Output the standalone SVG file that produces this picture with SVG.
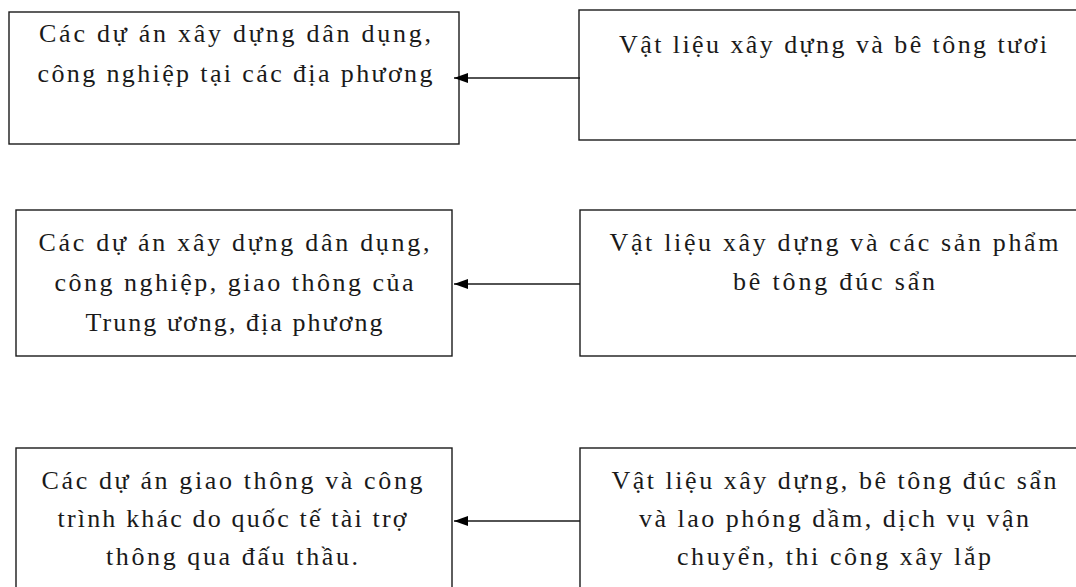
<svg xmlns="http://www.w3.org/2000/svg" width="1076" height="587" viewBox="0 0 1076 587">
  <defs>
    <style>
      .box { fill: #ffffff; stroke: #1a1a1a; stroke-width: 1.4; }
      .lbl { font-family: "Liberation Serif", "Times New Roman", serif; font-size: 26px; fill: #1a1a1a; text-anchor: middle; }
      .link { stroke: #1a1a1a; stroke-width: 1.4; fill: none; marker-end: url(#head); }
    </style>
    <marker id="head" markerUnits="userSpaceOnUse" markerWidth="15" markerHeight="11" viewBox="0 -5.5 15 11" refX="14" refY="0" orient="auto">
      <path d="M0,-5 L14,0 L0,5 z" fill="#000000"/>
    </marker>
  </defs>
  <rect width="1076" height="587" fill="#ffffff"/>

  <!-- row 1 -->
  <g id="site-local">
    <rect class="box" x="9" y="12" width="450" height="132"/>
    <text class="lbl" x="235" y="42" textLength="392" lengthAdjust="spacing">Các dự án xây dựng dân dụng,</text>
    <text class="lbl" x="235" y="82" textLength="395" lengthAdjust="spacing">công nghiệp tại các địa phương</text>
  </g>
  <g id="fresh-concrete">
    <rect class="box" x="579" y="10" width="520" height="130"/>
    <text class="lbl" x="833" y="53" textLength="428" lengthAdjust="spacing">Vật liệu xây dựng và bê tông tươi</text>
  </g>

  <!-- row 2 -->
  <g id="site-national">
    <rect class="box" x="16" y="210" width="436" height="146"/>
    <text class="lbl" x="234" y="251" textLength="391" lengthAdjust="spacing">Các dự án xây dựng dân dụng,</text>
    <text class="lbl" x="234" y="291" textLength="359" lengthAdjust="spacing">công nghiệp, giao thông của</text>
    <text class="lbl" x="234" y="331" textLength="297" lengthAdjust="spacing">Trung ương, địa phương</text>
  </g>
  <g id="precast">
    <rect class="box" x="580" y="210" width="520" height="146"/>
    <text class="lbl" x="834" y="251" textLength="449" lengthAdjust="spacing">Vật liệu xây dựng và các sản phẩm</text>
    <text class="lbl" x="834" y="290" textLength="202" lengthAdjust="spacing">bê tông đúc sẩn</text>
  </g>

  <!-- row 3 -->
  <g id="site-international">
    <rect class="box" x="16" y="448" width="436" height="160"/>
    <text class="lbl" x="232" y="489" textLength="381" lengthAdjust="spacing">Các dự án giao thông và công</text>
    <text class="lbl" x="232" y="527" textLength="349" lengthAdjust="spacing">trình khác do quốc tế tài trợ</text>
    <text class="lbl" x="232" y="565" textLength="252" lengthAdjust="spacing">thông qua đấu thầu.</text>
  </g>
  <g id="precast-services">
    <rect class="box" x="580" y="448" width="520" height="160"/>
    <text class="lbl" x="834" y="489" textLength="445" lengthAdjust="spacing">Vật liệu xây dựng, bê tông đúc sẩn</text>
    <text class="lbl" x="834" y="527" textLength="390" lengthAdjust="spacing">và lao phóng dầm, dịch vụ vận</text>
    <text class="lbl" x="834" y="565" textLength="314" lengthAdjust="spacing">chuyển, thi công xây lắp</text>
  </g>

  <!-- connectors: supply flows from right to left -->
  <g id="connectors">
    <line class="link" x1="580" y1="78" x2="454" y2="78"/>
    <line class="link" x1="580" y1="284" x2="454" y2="284"/>
    <line class="link" x1="580" y1="521" x2="454" y2="521"/>
  </g>
</svg>
